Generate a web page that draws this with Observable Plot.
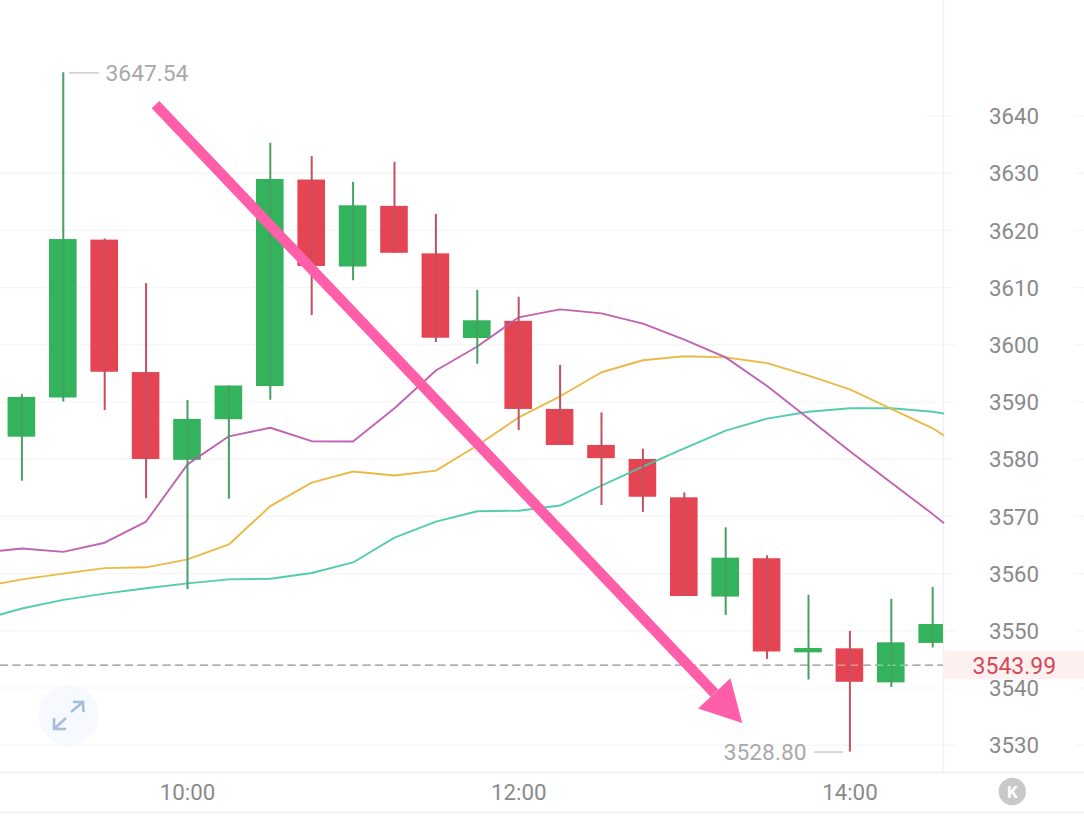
<!DOCTYPE html>
<html>
<head>
<meta charset="utf-8">
<script src="https://cdn.jsdelivr.net/npm/d3@7"></script>
<script src="https://cdn.jsdelivr.net/npm/@observablehq/plot@0.6"></script>
<style>html,body{margin:0;padding:0;background:#fff}svg{display:block}</style>
</head>
<body>
<div id="chart"></div>
<script>
const times = ["09:00","09:15","09:30","09:45","10:00","10:15","10:30","10:45","11:00","11:15","11:30","11:45","12:00","12:15","12:30","12:45","13:00","13:15","13:30","13:45","14:00","14:15","14:30"];
const highs = [3591.3,3647.54,3618.5,3610.7,3590.25,3592.8,3635.25,3632.9,3628.4,3631.9,3622.8,3609.5,3608.3,3596.4,3588.1,3581.75,3574.1,3568,3563.1,3556.2,3549.9,3555.5,3557.6];
const bodyTops = [3590.8,3618.4,3618.3,3595.15,3586.95,3592.8,3628.9,3628.8,3624.3,3624.2,3615.9,3604.2,3604.1,3588.7,3582.4,3579.95,3573.25,3562.7,3562.6,3546.9,3546.85,3547.9,3551.1];
const bodyBottoms = [3583.85,3590.7,3595.2,3579.95,3579.8,3586.9,3592.7,3613.7,3613.6,3616,3601.15,3601.1,3588.7,3582.4,3580.1,3573.35,3556,3555.9,3546.3,3546.15,3541,3540.9,3547.8];
const lows = [3576.15,3590,3588.5,3573.1,3557.2,3573,3590.3,3605.1,3611.2,3616,3600.4,3596.6,3585,3582.4,3571.9,3570.7,3556,3552.7,3545,3541.4,3528.8,3540.1,3547];
const colours = ["g","g","r","r","g","g","g","r","g","r","r","g","r","r","r","r","r","g","r","g","r","g","g"];

// Moving averages: first value sits on the chart's left edge, last on the price-axis edge
const maPurple = [3564,3564.4,3563.8,3565.4,3569.1,3579.1,3584,3585.5,3583.15,3583.1,3588.9,3595.5,3599.7,3604.8,3606.2,3605.5,3603.7,3600.9,3597.8,3592.8,3587.1,3581.4,3575.9,3570.4,3568.9];
const maYellow = [3558.3,3559,3560,3560.95,3561.1,3562.5,3565.1,3571.8,3575.9,3577.85,3577.15,3578,3582.4,3587.3,3591,3595.2,3597.3,3598,3597.8,3596.8,3594.6,3592.2,3588.8,3585.4,3584.2];
const maTeal = [3552.85,3553.9,3555.4,3556.5,3557.45,3558.3,3559,3559.1,3560.1,3561.95,3566.3,3569.1,3570.9,3571,3571.9,3575.4,3578.7,3581.9,3585,3587.1,3588.3,3588.9,3588.9,3588.3,3588];

const yTicks = [3530,3540,3550,3560,3570,3580,3590,3600,3610,3620,3630,3640];
const gridTicks = [3530,3540,3550,3560,3570,3580,3590,3600,3610,3620,3630];
const xTicks = [600,720,840];
const lastPrice = 3543.99;
const maxPrice = 3647.54;
const minPrice = 3528.80;

// Hand-drawn arrow, in chart units (minutes, price)
const arrowShaftX = [588.4,790.9];
const arrowShaftY = [3642,3539.1];
const arrowHeadX = [796.7,785,801];
const arrowHeadY = [3541.7,3536.4,3533.9];

const xLeft = 532.25, xEdge = 873.9, xRight = 925;
const toMin = s => { const [h,m] = s.split(":").map(Number); return h*60+m; };
const candles = times.map((t,i) => ({t:toMin(t),high:highs[i],top:bodyTops[i],bottom:bodyBottoms[i],low:lows[i],c:colours[i]}));
const maX = [xLeft, ...times.map(toMin), xEdge];
const toLine = vals => vals.map((v,i) => ({x:maX[i],y:v}));
const GREEN="#33b35b", RED="#e54553", GREENW="#479f63", REDW="#c2505f";
const label = "#8a8a8a", faint="#a9a9a9", grid="#f5f5f5";
const pad2 = n => String(n).padStart(2,"0");

const chrome = () => {
  const g = d3.create("svg:g");
  // expand button
  g.append("circle").attr("cx",68.5).attr("cy",715).attr("r",30).attr("fill","#f6f9fd");
  g.append("path").attr("fill","none").attr("stroke","#a9bcdc").attr("stroke-width",2.6)
    .attr("d","M71 712 L83 702 M73 702 L83 702 L83.5 712 M66 718 L54 729 M54 718 L54 729 L66 729");
  // K button
  g.append("circle").attr("cx",1012.3).attr("cy",791.5).attr("r",13.7).attr("fill","#c9c9c9");
  g.append("text").attr("x",1012.3).attr("y",797.5).attr("text-anchor","middle").attr("fill","#fff")
    .attr("font-size",17).attr("font-weight",700).text("K");
  return g.node();
};

const plot = Plot.plot({
  width:1084, height:816,
  marginTop:0, marginRight:0, marginBottom:44, marginLeft:0,
  style:{fontFamily:"Roboto, sans-serif",background:"#fff",overflow:"visible"},
  x:{type:"linear",domain:[xLeft,xRight],range:[0,1084],axis:null},
  y:{type:"linear",domain:[3525.23,3660.19],range:[772,0],axis:null},
  marks:[
    // grid
    Plot.ruleY(gridTicks,{x1:xLeft,x2:878.3,stroke:grid,strokeWidth:1.2}),
    Plot.ruleY([3640],{x1:867.4,x2:878.3,stroke:grid,strokeWidth:1.2}),
    Plot.ruleY(yTicks,{x1:921.7,x2:xRight,stroke:grid,strokeWidth:1.2}),
    Plot.ruleX([xEdge],{stroke:"#f2f2f2",strokeWidth:1.5}),
    Plot.ruleY([3525.23],{stroke:"#f1f1f1",strokeWidth:2}),
    Plot.ruleY([3525.23],{stroke:"#f3f3f3",strokeWidth:2,dy:40}),
    // price band
    Plot.rect([lastPrice],{x1:xEdge,x2:xRight,y1:3546.43,y2:3541.43,fill:"#fdf1f0"}),
    // last price dashed (dark under-layer)
    Plot.ruleY([lastPrice],{x1:xLeft,x2:xEdge,stroke:"#777777",strokeWidth:1.6,strokeDasharray:"8 4.5"}),
    // candle bodies
    Plot.rect(candles,{x1:d=>d.t-5,x2:d=>Math.min(d.t+5,xEdge),y1:"bottom",y2:"top",fill:d=>d.c==="g"?GREEN:RED}),
    // last price light overlay
    Plot.ruleY([lastPrice],{x1:xLeft,x2:xEdge,stroke:"#fff",strokeOpacity:0.4,strokeWidth:1.6,strokeDasharray:"8 4.5"}),
    // moving averages
    Plot.line(toLine(maTeal),{x:"x",y:"y",stroke:"#45c9a8",strokeWidth:1.9,strokeOpacity:.92,curve:"linear"}),
    Plot.line(toLine(maYellow),{x:"x",y:"y",stroke:"#e8b63c",strokeWidth:1.9,strokeOpacity:.95,curve:"linear"}),
    Plot.line(toLine(maPurple),{x:"x",y:"y",stroke:"#bd5cad",strokeWidth:1.9,strokeOpacity:.95,curve:"linear"}),
    // wicks
    Plot.ruleX(candles,{x:"t",y1:"low",y2:"high",stroke:d=>d.c==="g"?GREENW:REDW,strokeWidth:2}),
    // high / low annotations
    Plot.ruleY([maxPrice],{x1:557.2,x2:568.1,stroke:"#c8c8c8",strokeWidth:1.4}),
    Plot.text(["3647.54"],{x:[570.3],y:[maxPrice],text:d=>d,fill:faint,fontSize:22.8,textAnchor:"start",dy:1}),
    Plot.ruleY([minPrice],{x1:827.2,x2:837.7,stroke:"#c8c8c8",strokeWidth:1.4}),
    Plot.text(["3528.80"],{x:[824.3],y:[minPrice],text:d=>d,fill:faint,fontSize:22.8,textAnchor:"end",dy:1}),
    // axes
    Plot.axisY(yTicks,{anchor:"right",label:null,tickSize:0,tickPadding:0,dx:-95.5,dy:1,fill:label,fontSize:22.3,textAnchor:"start",tickFormat:d=>String(d)}),
    Plot.axisX(xTicks,{anchor:"bottom",label:null,tickSize:0,tickPadding:12,fill:label,fontSize:22.3,tickFormat:m=>pad2(Math.floor(m/60))+":"+pad2(m%60)}),
    Plot.text([String(lastPrice)],{x:[899.6],y:[lastPrice],text:d=>d,fill:"#d6475a",fontSize:23,textAnchor:"middle",dy:1}),
    // arrow
    Plot.line(arrowShaftX.map((x,i)=>({x,y:arrowShaftY[i]})),{x:"x",y:"y",stroke:"#ff5ea8",strokeWidth:10.5,strokeLinecap:"butt"}),
    Plot.line(arrowHeadX.map((x,i)=>({x,y:arrowHeadY[i]})),{x:"x",y:"y",fill:"#ff5ea8",stroke:"none"}),
    chrome
  ]
});
document.getElementById("chart").append(plot);
</script>
</body>
</html>
